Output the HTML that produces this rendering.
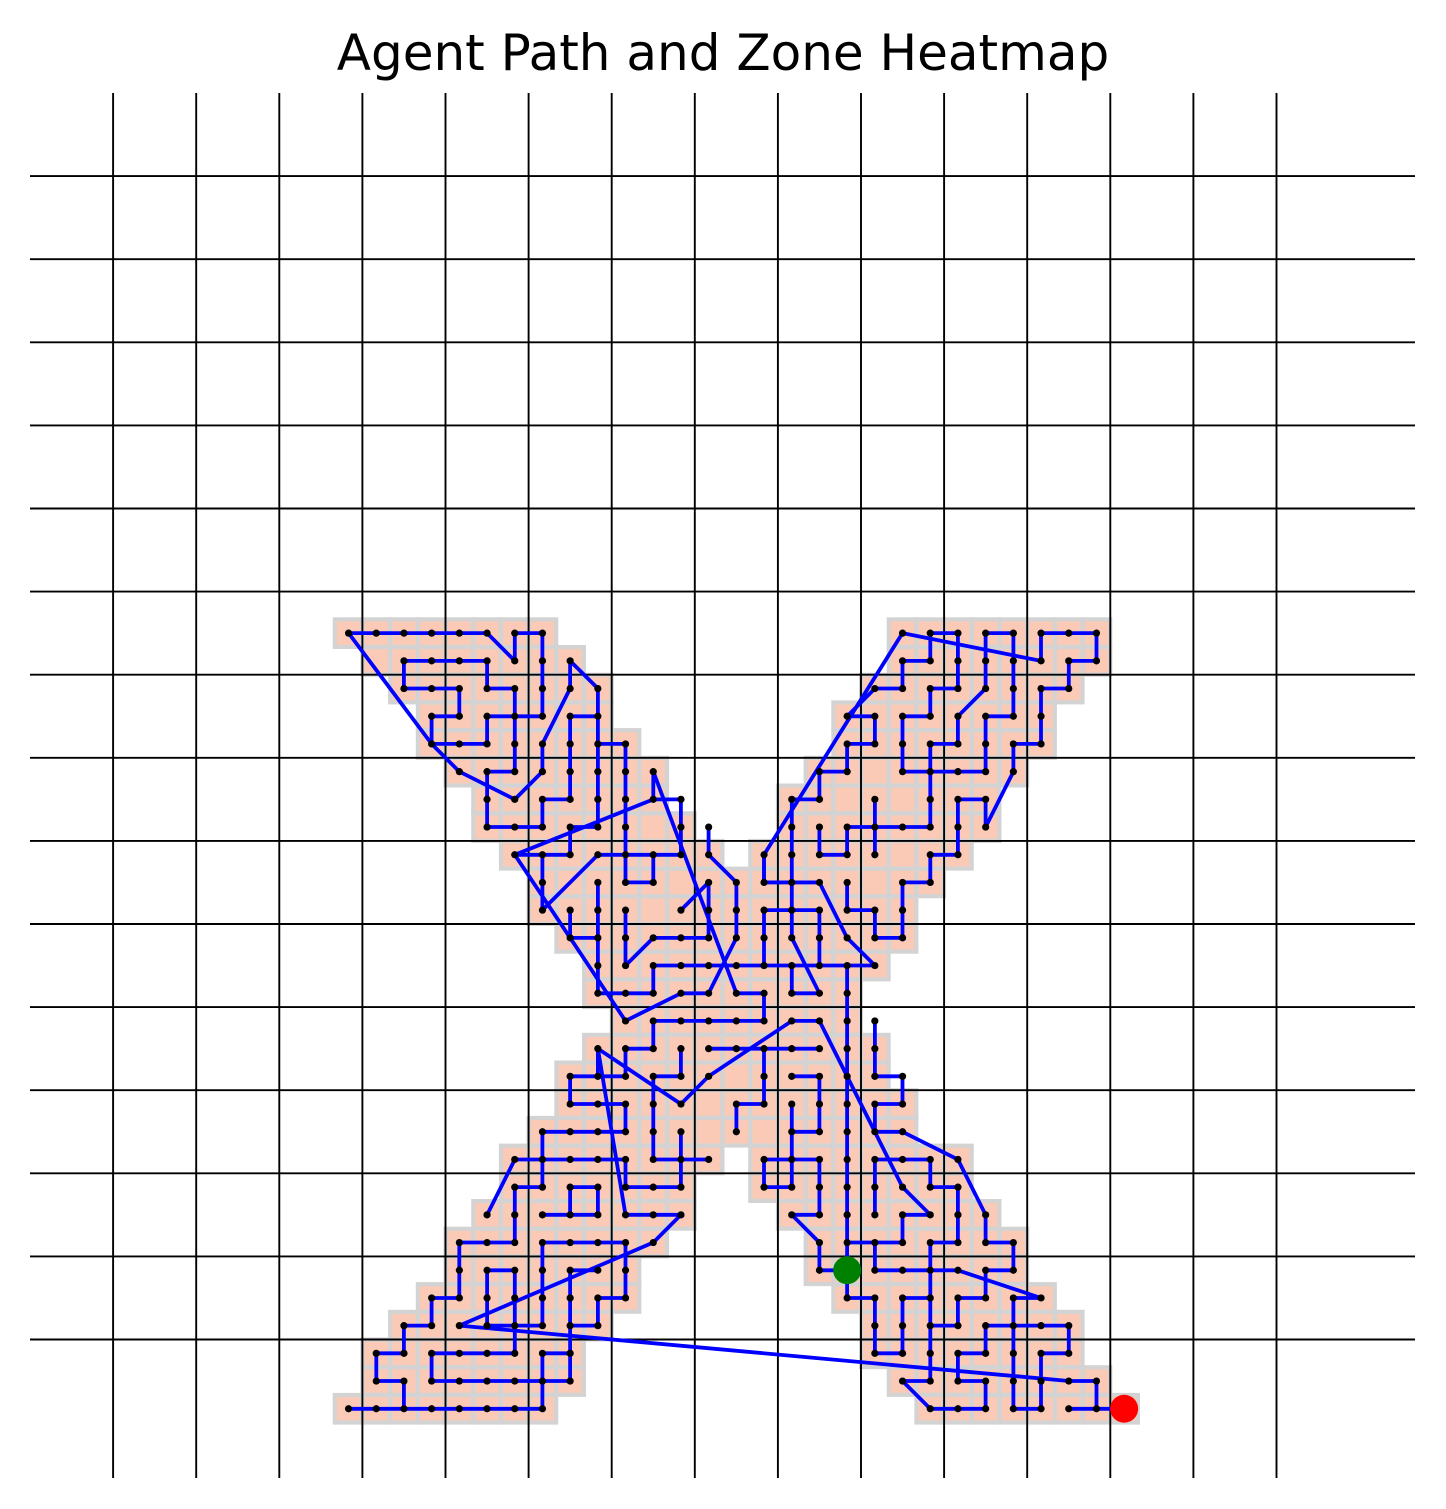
<!DOCTYPE html>
<html><head><meta charset="utf-8"><style>
html,body{margin:0;padding:0;background:#fff;}
svg{display:block;}
</style></head><body>
<svg id="chart" width="1446" height="1509" viewBox="0 0 1446 1509" xmlns="http://www.w3.org/2000/svg">
<rect x="0" y="0" width="1446" height="1509" fill="#fff"/>
<text x="723" y="70" text-anchor="middle" font-family="DejaVu Sans, Liberation Sans, sans-serif" font-size="50" fill="#000">Agent Path and Zone Heatmap</text>
<g id="cells"></g>
<g id="grid"></g>
<g id="paths"></g>
<g id="dots"></g>
<g id="markers"></g>
</svg>
<script>
// Zone rows (row index) and their occupied column ranges
const cellRows = [30,29,28,27,26,25,24,23,22,21,20,19,18,17,16,15,14,13,12,11,10,9,8,7,6,5,4,3,2];
const cellRanges = [
 [[11,18],[31,38]],[[12,19],[31,38]],[[13,20],[30,37]],[[14,20],[29,36]],[[14,21],[29,36]],
 [[15,22],[28,35]],[[16,22],[27,34]],[[16,23],[27,34]],[[17,24],[26,33]],[[18,32]],
 [[18,31]],[[19,31]],[[20,30]],[[20,29]],[[21,29]],[[20,30]],[[19,30]],[[19,31]],[[18,31]],
 [[17,24],[26,33]],[[17,23],[26,33]],[[16,23],[27,34]],[[15,22],[28,35]],[[15,21],[28,35]],
 [[14,21],[29,36]],[[13,20],[30,37]],[[12,19],[30,37]],[[12,19],[31,38]],[[11,18],[32,39]]
];
// Grid tick positions (axis units from top-left)
const gridTicks = [3,6,9,12,15,18,21,24,27,30,33,36,39,42,45];
// Agent path polylines as [col,row]
const pathSegments = [
 [[11,30],[16,30],[17,29],[17,30],[18,30],[18,27],[16,27],[16,26],[14,26],[14,27],[15,27],[15,28],[13,28],[13,29],[16,29],[16,28],[17,28],[17,25],[16,25],[16,23],[18,23],[18,24],[19,24],[19,27],[20,27]],
 [[11,30],[14,26],[15,25],[17,24],[18,25],[18,26],[19,28],[19,29],[20,28],[20,23],[19,23],[19,22],[17,22]],
 [[20,26],[21,26],[21,21],[22,21],[22,22],[23,22],[23,24],[22,24],[17,22],[21,16],[23,17],[24,17]],
 [[22,24],[22,25],[25,17],[26,17],[26,16],[22,16],[22,15],[21,15],[21,14],[19,14],[19,13],[21,13],[21,12],[18,12],[18,10],[17,10],[17,8],[15,8],[15,6],[14,6],[14,5],[13,5],[13,4],[12,4],[12,3],[13,3],[13,2]],
 [[11,2],[18,2],[18,4],[19,4]],
 [[19,7],[19,3],[14,3],[14,4],[17,4],[17,7],[16,7],[16,5],[18,5],[18,8],[21,8],[21,6],[20,6],[20,5],[19,5]],
 [[15,5],[22,8],[23,9],[21,9],[20,15]],
 [[15,5],[37,3],[38,3],[38,2],[39,2]],
 [[16,9],[17,11],[21,11],[21,10],[23,10],[23,12]],
 [[18,9],[20,9],[20,10],[19,10],[19,9]],
 [[19,7],[20,7]],
 [[20,15],[20,14]],
 [[22,14],[22,11],[24,11]],
 [[23,15],[23,14],[22,14]],
 [[18,22],[18,20],[20,22],[22,22]],
 [[20,21],[20,19],[19,19],[19,20]],
 [[20,19],[20,17],[22,17],[22,18],[30,18],[29,19],[28,21],[26,21],[26,22]],
 [[21,20],[21,18],[22,19],[24,19],[24,21],[23,20]],
 [[25,21],[25,19],[24,17]],
 [[25,21],[24,22],[24,23]],
 [[29,18],[29,7]],
 [[27,19],[28,17],[27,17],[27,18]],
 [[26,20],[26,18]],
 [[26,20],[28,20],[28,18]],
 [[24,15],[28,15]],
 [[20,15],[23,13],[24,14],[27,16],[28,16],[31,10],[32,9]],
 [[31,30],[36,29]],
 [[31,30],[26,22],[26,21],[28,21]],
 [[33,30],[32,30],[32,29],[31,29],[31,28],[30,28],[29,27],[30,27],[30,26],[29,26],[29,25],[28,25],[28,24],[27,24],[27,19]],
 [[33,30],[33,28],[32,28],[32,27],[31,27],[31,25],[34,25]],
 [[34,30],[35,30]],
 [[34,30],[34,28],[33,27],[33,26],[32,26],[32,23],[29,23],[29,22],[28,22],[28,23]],
 [[35,30],[35,27],[34,27],[34,25]],
 [[36,29],[36,30],[38,30],[38,29],[37,29],[37,28],[36,28],[36,26],[35,26],[35,25],[34,23],[34,24],[33,24],[33,22],[32,22],[32,21],[31,21],[31,19],[30,19],[30,20],[29,20],[29,21]],
 [[30,24],[30,22]],
 [[30,16],[30,14],[31,14],[31,13],[30,13],[30,12],[31,12],[33,11],[34,9]],
 [[27,14],[28,14],[28,12],[27,12],[27,13]],
 [[26,15],[26,13],[25,13],[25,12]],
 [[26,11],[28,11],[28,9],[27,9],[28,8],[28,7],[29,7]],
 [[26,11],[26,10],[27,10],[27,12]],
 [[29,8],[31,8],[31,9],[32,9]],
 [[30,8],[30,7],[33,7],[36,6]],
 [[29,7],[29,6],[30,6],[30,4],[31,4],[31,6],[32,6]],
 [[30,11],[30,9]],
 [[30,11],[32,11],[32,10],[33,10],[33,8],[32,8],[32,3],[31,3],[32,2],[34,2],[34,3],[33,3],[33,4],[34,4],[34,5],[37,5],[37,4],[36,4],[36,2],[35,2],[35,6],[36,6]],
 [[32,5],[33,5],[33,6],[34,6],[34,7],[35,7],[35,8],[34,8],[34,9]],
 [[37,2],[38,2]]
];
const startPoint = [29,7];
const endPoint = [39,2];

const NS = 'http://www.w3.org/2000/svg';
const X0 = 30, X1 = 1415, Y0 = 93, Y1 = 1478, UMAX = 50;
const unit = (X1 - X0) / UMAX;
function sx(v){ return X0 + v * unit; }
function sy(v){ return Y0 + (UMAX - v) * unit; }
function gy(t){ return Y0 + t * unit; }
function mk(tag, attrs){ const e = document.createElementNS(NS, tag); for (const k in attrs) e.setAttribute(k, attrs[k]); return e; }

// cells
const gCells = document.getElementById('cells');
cellRows.forEach((r, i) => {
  cellRanges[i].forEach(rg => {
    for (let c = rg[0]; c <= rg[1]; c++) {
      const g = mk('rect', {x: sx(c) - 2, y: sy(r + 1) - 2, width: unit + 4, height: unit + 4, fill: '#d3d3d3'});
      
      
      gCells.appendChild(g);
    }
  });
});
cellRows.forEach((r, i) => {
  cellRanges[i].forEach(rg => {
    for (let c = rg[0]; c <= rg[1]; c++) {
      const s = mk('rect', {x: sx(c) + 2.2, y: sy(r + 1) + 2.2, width: unit - 4.4, height: unit - 4.4, fill: '#fbcab6'});
      
      
      gCells.appendChild(s);
    }
  });
});

// grid
const gGrid = document.getElementById('grid');
gridTicks.forEach(t => {
  const v = mk('line', {x1: sx(t), x2: sx(t), y1: Y0, y2: Y1, stroke: '#000', 'stroke-width': 1.9});
  
  
  gGrid.appendChild(v);
  const h = mk('line', {x1: X0, x2: X1, y1: gy(t), y2: gy(t), stroke: '#000', 'stroke-width': 1.9});
  
  
  gGrid.appendChild(h);
});

// path
const gPaths = document.getElementById('paths');
const gDots = document.getElementById('dots');
const seen = new Set();
function addDot(c, r){
  const key = c + ',' + r;
  if (seen.has(key)) return;
  seen.add(key);
  const d = mk('circle', {cx: sx(c + 0.5), cy: sy(r + 0.5), r: 3.6, fill: '#000'});
  
  
  gDots.appendChild(d);
}
pathSegments.forEach(seg => {
  const pts = seg.map(p => sx(p[0] + 0.5).toFixed(1) + ',' + sy(p[1] + 0.5).toFixed(1)).join(' ');
  const pl = mk('polyline', {points: pts, fill: 'none', stroke: '#0000ff', 'stroke-width': 3.8, 'stroke-linejoin': 'round', 'stroke-linecap': 'round'});
  
  
  gPaths.appendChild(pl);
  for (let i = 0; i < seg.length; i++) {
    addDot(seg[i][0], seg[i][1]);
    if (i > 0) {
      const a = seg[i-1], b = seg[i];
      if (a[0] === b[0]) { const s = Math.sign(b[1]-a[1]); for (let r = a[1]; r !== b[1]; r += s) addDot(a[0], r); }
      else if (a[1] === b[1]) { const s = Math.sign(b[0]-a[0]); for (let c = a[0]; c !== b[0]; c += s) addDot(c, a[1]); }
    }
  }
});

// markers
const gM = document.getElementById('markers');
const st = mk('circle', {cx: sx(startPoint[0] + 0.5), cy: sy(startPoint[1] + 0.5), r: 14, fill: '#008000'});


gM.appendChild(st);
const en = mk('circle', {cx: sx(endPoint[0] + 0.5), cy: sy(endPoint[1] + 0.5), r: 14, fill: '#ff0000'});


gM.appendChild(en);
</script>
</body></html>
